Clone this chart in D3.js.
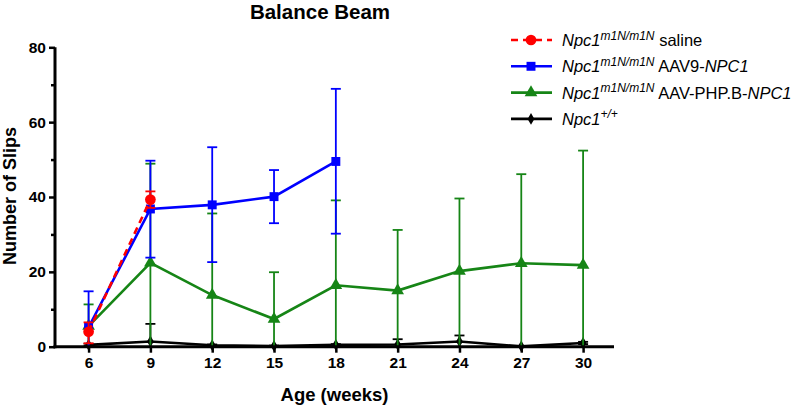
<!DOCTYPE html>
<html><head><meta charset="utf-8">
<script src="https://cdn.jsdelivr.net/npm/d3@7"></script>
<style>body{margin:0;background:#fff}svg{display:block}text{font-family:"Liberation Sans",Arial,sans-serif}</style>
</head><body><svg id="c" width="798" height="408"></svg>
<script>
const weeks = [6, 9, 12, 15, 18, 21, 24, 27, 30];
const xTicks = [6, 9, 12, 15, 18, 21, 24, 27, 30];
const yTicks = [0, 20, 40, 60, 80];
const yMinorTicks = [10, 30, 50, 70];

// saline
const salineWeeks = [6, 9];
const salineMean = [4.0, 39.3];
const salineHi = [6.5, 41.5];
const salineLo = [0.9, 37.1];
// AAV9
const aav9Weeks = [6, 9, 12, 15, 18];
const aav9Mean = [5.2, 36.8, 37.9, 40.1, 49.5];
const aav9Hi = [14.8, 49.7, 53.3, 47.2, 68.9];
const aav9Lo = [0, 23.8, 22.6, 33.0, 30.2];
// AAV-PHP.B
const phpMean = [5.5, 22.4, 13.8, 7.4, 16.4, 15.0, 20.2, 22.3, 21.8];
const phpHi = [11.3, 48.9, 35.6, 19.9, 39.1, 31.2, 39.6, 46.1, 52.4];
const phpLo = [0, 0, 0, 0, 0, 0, 0, 0, 0];
// WT
const wtMean = [0.5, 1.4, 0.4, 0.2, 0.5, 0.6, 1.4, 0.1, 1.0];
const wtHi = [0.8, 6.1, 0.6, 0.3, 0.7, 2.0, 3.0, 0.2, 1.3];
const wtLo = [0.2, 0, 0.2, 0.1, 0.3, 0, 0, 0, 0.7];

const svg = d3.select("#c");
const x = d3.scaleLinear().domain([4.37, 31.5]).range([55, 614]);
const y = d3.scaleLinear().domain([0, 80]).range([346.7, 47.3]);

const series = [
  {w: salineWeeks, m: salineMean, hi: salineHi, lo: salineLo, color: "#ff0000", dash: "7,5", shape: d3.symbolCircle, size: 90},
  {w: aav9Weeks, m: aav9Mean, hi: aav9Hi, lo: aav9Lo, color: "#0000ff", dash: null, shape: d3.symbolSquare, size: 80},
  {w: weeks, m: phpMean, hi: phpHi, lo: phpLo, color: "#168516", dash: null, shape: d3.symbolTriangle, size: 70},
  {w: weeks, m: wtMean, hi: wtHi, lo: wtLo, color: "#000000", dash: null, shape: d3.symbolDiamond, size: 40}
];

const order = [3, 2, 1, 0];
order.forEach(i => {
  const s = series[i];
  const g = svg.append("g");
  const cap = 5;
  s.w.forEach((wk, j) => {
    const cx = x(wk);
    g.append("line").attr("x1", cx).attr("x2", cx).attr("y1", y(s.lo[j])).attr("y2", y(s.hi[j]))
      .attr("stroke", s.color).attr("stroke-width", 1.8);
    g.append("line").attr("x1", cx - cap).attr("x2", cx + cap).attr("y1", y(s.hi[j])).attr("y2", y(s.hi[j]))
      .attr("stroke", s.color).attr("stroke-width", 1.8);
    if (s.lo[j] > 0)
      g.append("line").attr("x1", cx - cap).attr("x2", cx + cap).attr("y1", y(s.lo[j])).attr("y2", y(s.lo[j]))
        .attr("stroke", s.color).attr("stroke-width", 1.8);
  });
  const line = d3.line().x((d, j) => x(s.w[j])).y(d => y(d));
  g.append("path").attr("d", line(s.m)).attr("fill", "none").attr("stroke", s.color)
    .attr("stroke-width", 2.6).attr("stroke-dasharray", s.dash);
  s.m.forEach((v, j) => {
    g.append("path").attr("d", d3.symbol().type(s.shape).size(s.size)())
      .attr("transform", `translate(${x(s.w[j])},${y(v)})`).attr("fill", s.color);
  });
});

// axes
const yAxis = svg.append("g").attr("transform", "translate(55,0)")
  .call(d3.axisLeft(y).tickValues(yTicks).tickSize(6).tickPadding(3).tickFormat(d3.format("d")));
svg.append("g").attr("transform", "translate(55,0)")
  .call(d3.axisLeft(y).tickValues(yMinorTicks).tickSize(4).tickFormat(""))
  .call(g => g.select(".domain").remove())
  .selectAll("line").attr("stroke-width", 2.5);
const xAxis = svg.append("g").attr("transform", "translate(0,346.7)")
  .call(d3.axisBottom(x).tickValues(xTicks).tickSize(6).tickPadding(4).tickFormat(d3.format("d")));
[yAxis, xAxis].forEach(a => {
  a.selectAll(".tick line").attr("stroke-width", 2.5);
  a.selectAll("text").attr("font-size", 15.5).attr("font-weight", "bold").attr("fill", "#000")
    .style("font-family", "Liberation Sans, Arial, sans-serif");
  a.select(".domain").remove();
});
svg.append("line").attr("x1", 55).attr("x2", 55).attr("y1", y(80)).attr("y2", y(0) + 1.5)
  .attr("stroke", "#000").attr("stroke-width", 3);
svg.append("line").attr("x1", 53.5).attr("x2", 614).attr("y1", y(0)).attr("y2", y(0))
  .attr("stroke", "#000").attr("stroke-width", 3);

// titles
svg.append("text").attr("x", 320).attr("y", 19).attr("text-anchor", "middle")
  .attr("font-size", 20.5).attr("font-weight", "bold").text("Balance Beam");
svg.append("text").attr("transform", "translate(16,196) rotate(-90)").attr("text-anchor", "middle")
  .attr("font-size", 18).attr("font-weight", "bold").text("Number of Slips");
svg.append("text").attr("x", 334.5).attr("y", 401).attr("text-anchor", "middle")
  .attr("font-size", 18.5).attr("font-weight", "bold").text("Age (weeks)");

// legend
const legendSuffix = [" saline", " AAV9-", " AAV-PHP.B-", ""];
const legendGene = ["", "NPC1", "NPC1", ""];
const legendSup = ["m1N/m1N", "m1N/m1N", "m1N/m1N", "+/+"];
const lg = svg.append("g");
series.forEach((s, i) => {
  const ly = 40 + i * 26.3;
  lg.append("line").attr("x1", 511).attr("x2", 552).attr("y1", ly).attr("y2", ly)
    .attr("stroke", s.color).attr("stroke-width", 2.6).attr("stroke-dasharray", s.dash);
  lg.append("path").attr("d", d3.symbol().type(s.shape).size(s.size)())
    .attr("transform", `translate(531,${ly})`).attr("fill", s.color);
  const t = lg.append("text").attr("x", 562).attr("y", ly + 6).attr("font-size", 16.5);
  t.append("tspan").attr("font-style", "italic").text("Npc1");
  t.append("tspan").attr("font-style", "italic").attr("font-size", 12).attr("dy", -6.5).text(legendSup[i]);
  t.append("tspan").attr("dy", 6.5).text(legendSuffix[i]);
  if (legendGene[i]) t.append("tspan").attr("font-style", "italic").text(legendGene[i]);
});
</script></body></html>
